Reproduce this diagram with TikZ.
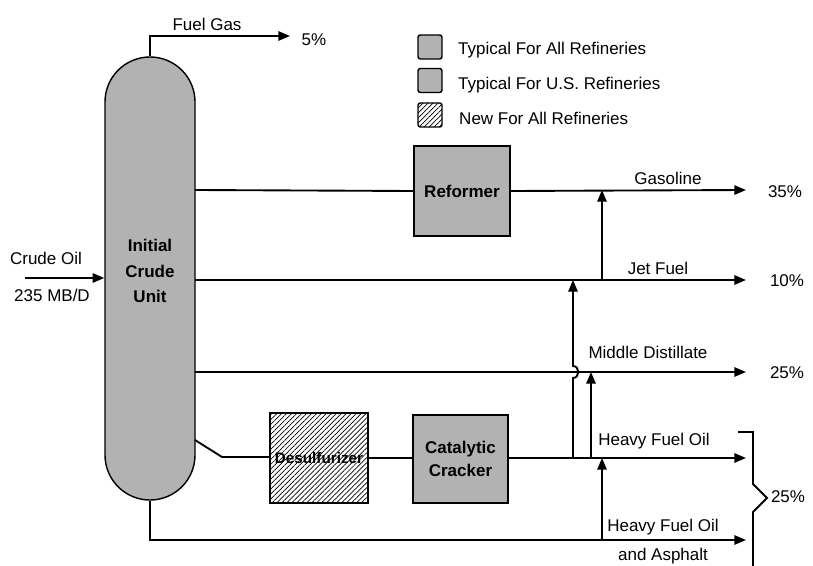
\documentclass[tikz,border=0pt]{standalone}
\usepackage{fontspec}
\setmainfont{Liberation Sans}
\usetikzlibrary{arrows.meta,patterns.meta}
\definecolor{unitgray}{gray}{0.70}
\newcommand\figfont{\fontsize{14.5}{17}\selectfont}
\tikzset{
  flow/.style={line width=1.6pt,-{Triangle[length=10pt,width=8pt]}},
  pipe/.style={line width=1.6pt},
  unit/.style={draw,line width=1.2pt,fill=unitgray,font=\figfont\bfseries,align=center},
  newunit/.style={draw,line width=1.2pt,pattern={Lines[angle=45,distance=3pt,line width=0.6pt]},font=\figfont\bfseries,align=center},
  lbl/.style={inner sep=0pt,align=center}
}
\begin{document}
\begin{tikzpicture}[x=0.03cm,y=-0.03cm,font=\figfont]
\useasboundingbox (0,0) rectangle (813,566);
\path node[unit,minimum width=2.7cm,minimum height=13.29cm,rounded corners=1.35cm] (CU) at (150,278.5) {}
node[lbl,font=\fontsize{14.5}{22}\selectfont\bfseries] (CUtxt) at (150,271) {Initial\\Crude\\Unit}
node[unit,minimum width=2.88cm,minimum height=2.7cm] (REF) at (462,191) {Reformer}
node[newunit,minimum width=2.94cm,minimum height=2.7cm,inner sep=1pt,font=\fontsize{13}{15}\selectfont\bfseries] (DES) at (319,458) {Desulfurizer}
node[unit,minimum width=2.85cm,minimum height=2.64cm,font=\fontsize{14.5}{19}\selectfont\bfseries] (CAT) at (460.5,459) {Catalytic\\Cracker}
;
% legend
\path node[unit,minimum size=0.72cm,rounded corners=2pt] (L1) at (430,47) {}
node[unit,minimum size=0.72cm,rounded corners=2pt] (L2) at (430,80.5) {}
node[newunit,minimum size=0.72cm,rounded corners=2pt] (L3) at (430,115) {}
node[lbl,anchor=west] (L1t) at (458,50) {Typical For All Refineries}
node[lbl,anchor=west] (L2t) at (458,85) {Typical For U.S. Refineries}
node[lbl,anchor=west] (L3t) at (459,118) {New For All Refineries}
;
% ends of the streams
\coordinate (FGe) at (290,36);
\coordinate (GASs) at (195,190);
\coordinate (GASe) at (746,190);
\coordinate (JETs) at (195,280);
\coordinate (JETe) at (746,280);
\coordinate (MDs) at (195,372);
\coordinate (MDe) at (746,372);
\coordinate (HFs) at (195,440);
\coordinate (HFk) at (222,457);
\coordinate (HFe) at (746,458);
\coordinate (ASe) at (746,540);
\coordinate (CRs) at (25,278);
\coordinate (CRe) at (CU.west |- CRs);
% labels
\path node[lbl] (FG) at (207,24) {Fuel Gas}
node[lbl] (FGp) at (314,40) {5\%}
node[lbl] (CR) at (46,258) {Crude Oil}
node[lbl] (CRr) at (52,295) {235 MB/D}
node[lbl] (GAS) at (668,178) {Gasoline}
node[lbl] (GASp) at (785,192) {35\%}
node[lbl] (JET) at (658,268) {Jet Fuel}
node[lbl] (JETp) at (787,281) {10\%}
node[lbl] (MD) at (648,352) {Middle Distillate}
node[lbl] (MDp) at (787,373) {25\%}
node[lbl] (HF) at (654,441) {Heavy Fuel Oil}
node[lbl] (AS) at (663,527) {Heavy Fuel Oil}
node[lbl] (ASb) at (663,556) {and Asphalt}
node[lbl] (HFp) at (788,497) {25\%}
;
\draw[flow] (CRs) -- (CRe);
\draw[flow] (CU.north) |- (FGe);
\draw[pipe] (GASs) -- (REF.west);
\draw[flow] (REF.east) -- (GASe);
\draw[flow] (JETs) -- (JETe);
\draw[flow] (MDs) -- (MDe);
\draw[pipe] (HFs) -- (HFk) -- (HFk -| DES.west);
\draw[pipe] (DES.east |- HFe) -- (CAT.west |- HFe);
\draw[flow] (CAT.east |- HFe) -- (HFe);
\draw[flow] (CU.south) |- (ASe);
% cross links
\draw[flow] (602,280) -- (602,190);
\draw[flow] (573,458) -- (573,378) .. controls (580,378) and (580,366) .. (573,366) -- (573,280);
\draw[flow] (591,458) -- (591,372);
\draw[flow] (602,540) -- (602,458);
% brace
\draw[pipe] (738,432) -- (753,432) -- (753,484) -- (767,498) -- (753,512) -- (753,566);
\end{tikzpicture}
\end{document}
